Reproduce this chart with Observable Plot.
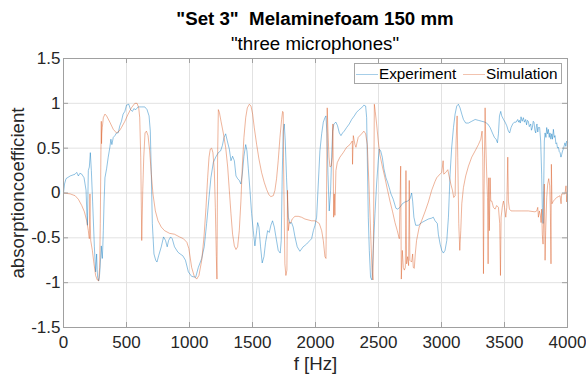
<!DOCTYPE html>
<html><head><meta charset="utf-8">
<script src="https://cdn.jsdelivr.net/npm/d3@7"></script>
<script src="https://cdn.jsdelivr.net/npm/@observablehq/plot@0.6"></script>
<style>
body{margin:0;background:#fff;font-family:"Liberation Sans",Arial,Helvetica,sans-serif;}
#wrap{position:relative;width:586px;height:382px;overflow:hidden;}
#title{position:absolute;left:63px;width:504px;top:10px;text-align:center;font-weight:bold;font-size:18.7px;color:#000;white-space:pre;line-height:1;}
#subtitle{position:absolute;left:63px;width:504px;top:35px;text-align:center;font-size:18.7px;color:#000;white-space:pre;line-height:1;}
#legend{position:absolute;left:354px;top:63px;width:206px;height:19px;border:1px solid #a6a6a6;background:#fff;font-size:15.3px;color:#000;}
.sw{position:absolute;top:10px;height:1px;width:22px;}
.lt{position:absolute;top:1px;line-height:17px;white-space:nowrap;}
</style></head>
<body>
<div id="wrap">
  <div id="chart"></div>
  <div id="title"></div>
  <div id="subtitle"></div>
  <div id="legend"></div>
</div>
<script>
const titleText = "\"Set 3\"  Melaminefoam 150 mm";
const subtitleText = "\"three microphones\"";
const xLabel = "f [Hz]";
const yLabel = "absorptioncoefficient";
const seriesNames = ["Experiment", "Simulation"];
const seriesColors = ["#0072BD", "#D95319"];
const xTicks = [0, 500, 1000, 1500, 2000, 2500, 3000, 3500, 4000];
const yTicks = [-1.5, -1, -0.5, 0, 0.5, 1, 1.5];

const expFreq = [0,8,20,53,92,105,118,130,145,163,179,186,190,194,197,205,213,221,231,245,255,259,263,267,271,279,284,289,295,300,304,308,312,316,322,329,342,355,368,376,384,395,408,421,434,447,460,473,487,500,518,532,547,558,574,592,618,645,663,679,689,697,705,718,732,742,755,776,794,810,823,834,850,863,881,908,926,947,968,991,1017,1049,1070,1097,1117,1136,1155,1170,1189,1208,1229,1247,1261,1274,1287,1300,1316,1329,1342,1356,1369,1382,1395,1408,1419,1432,1446,1456,1467,1480,1493,1506,1519,1533,1541,1551,1564,1577,1591,1604,1620,1633,1646,1659,1673,1686,1704,1720,1728,1736,1744,1752,1760,1770,1784,1797,1810,1823,1837,1855,1876,1902,1929,1955,1969,1983,1996,2009,2022,2035,2049,2062,2075,2083,2091,2099,2109,2120,2128,2136,2146,2162,2175,2189,2202,2215,2228,2247,2268,2287,2308,2326,2347,2366,2384,2398,2406,2411,2419,2427,2437,2448,2458,2472,2485,2498,2506,2517,2530,2543,2559,2572,2585,2599,2617,2638,2652,2670,2689,2710,2731,2749,2763,2771,2781,2795,2816,2843,2869,2896,2922,2935,2949,2967,2975,2989,3002,3015,3028,3042,3055,3068,3081,3095,3108,3121,3134,3147,3161,3174,3192,3214,3240,3267,3293,3320,3346,3367,3386,3404,3420,3433,3444,3452,3460,3470,3478,3492,3505,3518,3531,3541,3552,3565,3578,3592,3605,3612,3618,3625,3631,3640,3650,3658,3668,3675,3682,3689,3697,3708,3714,3721,3728,3734,3741,3748,3753,3758,3764,3769,3779,3787,3795,3800,3806,3811,3816,3822,3829,3835,3842,3848,3855,3861,3868,3875,3881,3888,3895,3901,3908,3914,3921,3928,3935,3941,3948,3954,3961,3967,3974,3980,3987,3994,4000];
const expAlpha = [0.0,0.10,0.16,0.19,0.21,0.23,0.19,0.22,0.21,0.17,0.03,-0.25,-0.36,0.0,0.25,0.29,0.45,0.25,-0.09,-0.6,-0.88,-0.78,-0.68,-0.85,-0.94,-0.98,-0.95,-0.86,-0.72,-0.59,-0.68,-0.73,-0.6,-0.42,-0.1,0.17,0.27,0.40,0.51,0.6,0.54,0.62,0.64,0.67,0.67,0.75,0.80,0.88,0.91,0.98,0.99,0.93,0.91,0.94,0.93,0.96,0.96,0.96,0.93,0.86,0.69,0.21,-0.34,-0.68,-0.75,-0.77,-0.70,-0.6,-0.49,-0.53,-0.6,-0.53,-0.49,-0.51,-0.6,-0.66,-0.68,-0.70,-0.75,-0.88,-0.93,-0.94,-0.83,-0.73,-0.6,-0.34,-0.05,0.17,0.34,0.40,0.45,0.47,0.53,0.62,0.66,0.58,0.49,0.36,0.41,0.36,0.19,0.16,0.14,0.10,0.21,0.41,0.54,0.47,0.27,0.03,-0.23,-0.42,-0.59,-0.42,-0.33,-0.38,-0.6,-0.78,-0.71,-0.55,-0.42,-0.44,-0.36,-0.31,-0.38,-0.49,-0.64,-0.67,-0.53,0.21,0.69,0.77,0.58,0.17,-0.27,-0.34,-0.33,-0.38,-0.49,-0.6,-0.65,-0.6,-0.57,-0.53,-0.51,-0.42,-0.36,-0.27,0.1,0.47,0.66,0.79,0.84,0.86,0.66,0.21,-0.2,0.03,0.4,0.69,0.77,0.79,0.75,0.67,0.64,0.67,0.69,0.73,0.77,0.82,0.86,0.9,0.93,0.95,0.98,0.97,0.84,0.4,-0.27,-0.64,-0.94,-0.97,-0.64,-0.23,0.1,0.36,0.49,0.47,0.4,0.27,0.17,0.12,0.06,-0.01,-0.07,-0.17,-0.18,-0.16,-0.12,-0.1,-0.09,-0.07,0.0,-0.09,-0.27,-0.36,-0.36,-0.33,-0.31,-0.29,-0.28,-0.27,-0.31,-0.34,-0.46,-0.57,-0.64,-0.67,-0.64,-0.53,-0.27,0.21,0.51,0.73,0.88,0.97,0.99,0.95,0.88,0.82,0.78,0.78,0.8,0.82,0.81,0.8,0.79,0.77,0.73,0.67,0.62,0.6,0.56,0.66,0.86,0.91,0.86,0.82,0.79,0.75,0.69,0.67,0.73,0.77,0.79,0.79,0.82,0.79,0.81,0.78,0.85,0.80,0.84,0.79,0.82,0.76,0.81,0.8,0.74,0.77,0.70,0.73,0.80,0.79,0.70,0.67,0.75,0.77,0.68,0.73,0.73,0.58,0.21,-0.16,-0.34,0.03,0.58,0.67,0.62,0.73,0.66,0.71,0.62,0.67,0.60,0.66,0.60,0.71,0.62,0.64,0.55,0.56,0.50,0.51,0.46,0.45,0.40,0.43,0.47,0.49,0.53,0.56,0.52,0.58,0.57];

const simFreq = [0,53,92,118,145,166,184,197,205,208,210,212,216,229,242,255,268,279,287,292,297,300,302,304,308,316,329,342,368,395,421,442,460,487,513,539,566,584,597,605,613,621,629,637,647,658,671,684,697,710,729,750,776,802,842,881,921,952,979,995,1017,1038,1057,1075,1097,1115,1131,1144,1155,1165,1176,1186,1197,1205,1213,1218,1223,1229,1237,1250,1268,1287,1303,1316,1329,1342,1356,1369,1382,1395,1408,1419,1432,1446,1459,1475,1488,1501,1514,1533,1551,1572,1593,1612,1630,1646,1665,1678,1691,1704,1718,1731,1739,1744,1746,1752,1757,1765,1773,1778,1784,1792,1805,1815,1837,1863,1889,1916,1942,1969,1996,2009,2030,2049,2062,2075,2083,2088,2093,2099,2107,2115,2125,2133,2138,2144,2149,2154,2162,2173,2194,2220,2247,2273,2292,2294,2300,2313,2321,2339,2366,2384,2398,2411,2424,2437,2448,2456,2461,2467,2474,2485,2498,2511,2530,2551,2572,2591,2612,2631,2649,2665,2676,2681,2689,2697,2705,2713,2718,2723,2731,2739,2744,2749,2763,2771,2776,2784,2792,2802,2823,2842,2869,2896,2922,2949,2962,2981,3002,3013,3018,3034,3050,3060,3074,3087,3097,3108,3116,3124,3129,3137,3145,3153,3161,3174,3192,3214,3240,3267,3293,3312,3322,3328,3333,3338,3346,3351,3357,3365,3370,3375,3380,3386,3391,3399,3412,3425,3438,3452,3462,3468,3473,3484,3492,3500,3510,3518,3526,3531,3539,3552,3584,3637,3689,3742,3756,3764,3769,3777,3785,3790,3795,3800,3806,3811,3816,3822,3827,3835,3843,3851,3859,3864,3869,3872,3877,3888,3901,3914,3928,3941,3949,3954,3967,3980,3988,3994,4000];
const simAlpha = [0.0,-0.01,-0.03,-0.07,-0.14,-0.21,-0.31,-0.42,-0.51,-0.2,-0.01,-0.3,-0.53,-0.64,-0.79,-0.92,-0.97,-0.98,-0.83,-0.34,0.47,0.80,0.55,0.66,0.73,0.84,0.88,0.86,0.79,0.71,0.67,0.69,0.73,0.80,0.88,0.95,1.0,1.0,0.95,0.84,0.4,-0.53,0.03,0.4,0.67,0.69,0.64,0.47,0.21,-0.01,-0.2,-0.31,-0.38,-0.42,-0.45,-0.46,-0.49,-0.51,-0.55,-0.62,-0.83,-0.93,-0.96,-0.92,-0.75,-0.49,-0.16,0.17,0.40,0.49,0.5,0.45,0.25,-0.16,-0.71,-0.96,0.4,0.93,0.90,0.80,0.67,0.51,0.29,0.03,-0.23,-0.46,-0.59,-0.63,-0.6,-0.42,-0.09,0.29,0.62,0.84,0.95,0.99,0.97,0.88,0.73,0.54,0.38,0.23,0.12,0.04,-0.02,-0.04,-0.03,0.03,0.16,0.36,0.62,0.82,0.91,0.90,0.4,-0.27,-0.79,-0.92,-0.86,0.03,-0.42,-0.33,-0.33,-0.29,-0.26,-0.26,-0.27,-0.29,-0.3,-0.31,-0.31,-0.32,-0.34,-0.42,-0.53,-0.71,-0.73,0.03,0.95,0.69,0.4,0.29,0.3,0.4,0.77,-0.27,-0.01,-0.25,0.25,0.34,0.4,0.45,0.51,0.54,0.58,0.32,0.64,0.54,0.51,0.62,0.66,0.69,0.66,0.54,0.1,-0.42,-0.83,-0.97,-0.34,0.99,0.91,0.77,0.58,0.43,0.3,0.17,0.03,-0.09,-0.21,-0.33,-0.42,-0.51,0.3,-0.96,-0.64,-0.83,-0.86,-0.83,0.25,-0.79,-0.71,-0.81,0.14,-0.75,-0.77,-0.68,-0.83,-0.84,-0.68,-0.53,-0.38,-0.31,-0.21,-0.1,0.03,0.13,0.17,0.2,0.23,0.36,0.21,0.23,0.26,0.19,0.1,0.03,-0.05,-0.03,0.58,0.86,0.4,-0.34,-0.64,-0.42,-0.12,0.06,0.19,0.3,0.4,0.47,0.54,0.6,0.69,0.4,-0.9,0.03,0.95,0.58,0.29,-0.05,-0.79,0.17,-0.42,0.17,-0.09,-0.09,-0.16,-0.18,-0.14,-0.16,-0.34,-0.92,-0.27,-0.14,-0.09,-0.16,-0.27,-0.16,0.4,-0.09,-0.18,-0.2,-0.2,-0.2,-0.2,-0.21,-0.2,-0.16,-0.27,-0.2,-0.25,-0.33,-0.18,-0.46,-0.57,-0.27,0.1,-0.75,-0.42,-0.05,0.1,0.16,0.08,-0.2,-0.79,0.32,-0.12,-0.09,-0.07,-0.05,-0.04,-0.03,-0.12,-0.01,-0.01,-0.01,0.08,-0.1,0.03];

const expData = expFreq.map((f, i) => ({f, a: expAlpha[i]}));
const simData = simFreq.map((f, i) => ({f, a: simAlpha[i]}));

const font = "Liberation Sans, Arial, Helvetica, sans-serif";
const chart = Plot.plot({
  width: 586, height: 382,
  marginLeft: 63, marginRight: 19, marginTop: 58, marginBottom: 55,
  style: {fontFamily: font, fontSize: "17px", color: "#262626", background: "#fff", overflow: "visible"},
  x: {domain: [0, 4000], label: null},
  y: {domain: [-1.5, 1.5], label: null},
  marks: [
    Plot.gridX(xTicks, {stroke: "#e2e2e2", strokeOpacity: 1}),
    Plot.gridY(yTicks, {stroke: "#e2e2e2", strokeOpacity: 1}),
    Plot.line(expData, {x: "f", y: "a", stroke: seriesColors[0], strokeWidth: 0.55, strokeOpacity: 0.8}),
    Plot.line(simData, {x: "f", y: "a", stroke: seriesColors[1], strokeWidth: 0.55, strokeOpacity: 0.8}),
    Plot.frame({stroke: "#a0a0a0"}),
    Plot.tickX(xTicks, {x: d => d, stroke: "#a0a0a0", insetTop: 264}),
    Plot.tickX(xTicks, {x: d => d, stroke: "#a0a0a0", insetBottom: 264}),
    Plot.tickY(yTicks, {y: d => d, stroke: "#a0a0a0", insetRight: 499}),
    Plot.tickY(yTicks, {y: d => d, stroke: "#a0a0a0", insetLeft: 499}),
    Plot.axisX(xTicks, {tickSize: 0, tickPadding: 8, tickFormat: d => String(d), label: null, fontSize: 17, fill: "#262626"}),
    Plot.axisY(yTicks, {tickSize: 0, tickPadding: 3, tickFormat: d => String(d), label: null, fontSize: 17, fill: "#262626"}),
    Plot.text([xLabel], {frameAnchor: "bottom", dy: 42, fontSize: 18.7, fill: "#262626", textAnchor: "middle"}),
    Plot.text([yLabel], {frameAnchor: "left", dx: -45, rotate: -90, fontSize: 18.7, fill: "#262626", textAnchor: "middle"})
  ]
});
document.getElementById("chart").appendChild(chart);
document.getElementById("title").textContent = titleText;
document.getElementById("subtitle").textContent = subtitleText;

const legend = document.getElementById("legend");
const legendPos = [{sw: 1, tx: 24}, {sw: 108, tx: 131}];
seriesNames.forEach((name, i) => {
  const sw = document.createElement("div");
  sw.className = "sw";
  sw.style.left = legendPos[i].sw + "px";
  sw.style.background = seriesColors[i];
  sw.style.opacity = "0.35";
  legend.appendChild(sw);
  const t = document.createElement("div");
  t.className = "lt";
  t.style.left = legendPos[i].tx + "px";
  t.textContent = name;
  legend.appendChild(t);
});
</script>
</body></html>
